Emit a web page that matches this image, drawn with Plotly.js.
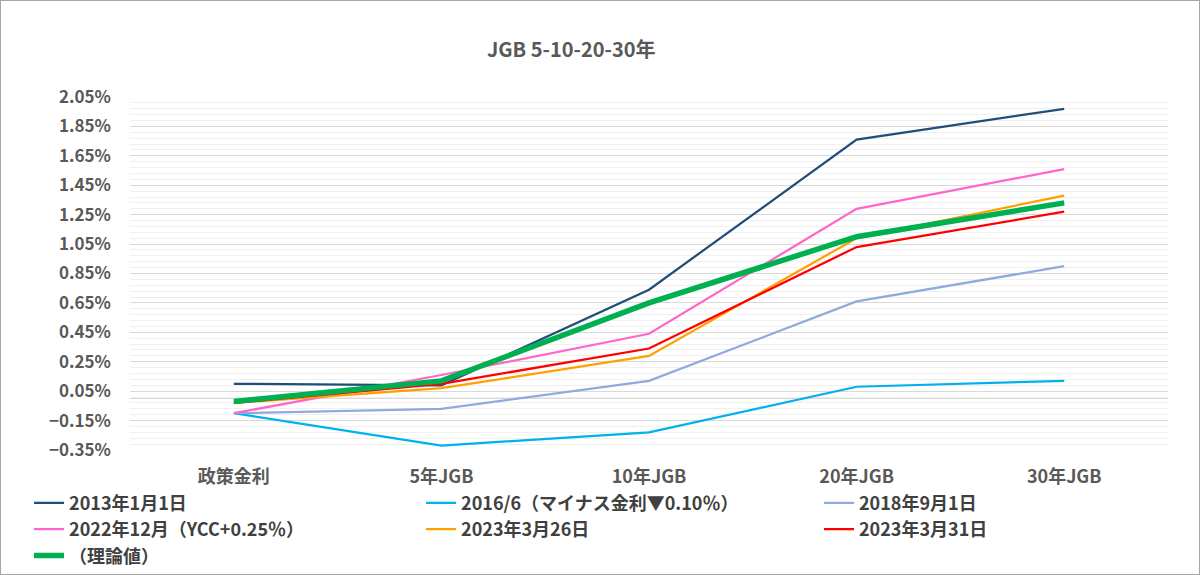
<!DOCTYPE html>
<html>
<head>
<meta charset="utf-8">
<script src="https://cdn.plot.ly/plotly-3.0.1.min.js"></script>
<style>
  body { margin: 0; background: #fff; }
  #chart { width: 1198px; height: 573px; border: 1px solid #a6a6a6; }
</style>
</head>
<body>
<div id="chart"></div>
<script>
// 年限
var maturities = ['政策金利', '5年JGB', '10年JGB', '20年JGB', '30年JGB'];

// 利回り（%）
var y2013jan = [0.10, 0.09, 0.74, 1.76, 1.97];
var y2016jun = [-0.10, -0.32, -0.23, 0.08, 0.12];
var y2018sep = [-0.10, -0.07, 0.12, 0.66, 0.90];
var y2022dec = [-0.10, 0.16, 0.44, 1.29, 1.56];
var y2023mar26 = [-0.03, 0.07, 0.29, 1.09, 1.38];
var y2023mar31 = [-0.03, 0.10, 0.34, 1.03, 1.27];
var theory = [-0.02, 0.12, 0.65, 1.10, 1.33];

var seriesNames = [
  '2013年1月1日',
  '2016/6（マイナス金利▼0.10％）',
  '2018年9月1日',
  '2022年12月（YCC+0.25％）',
  '2023年3月26日',
  '2023年3月31日',
  '（理論値）'
];

var font = '"Noto Sans CJK JP", "Noto Sans", sans-serif';

// legend: 3 columns like the Excel one -> one legend per column
function line(name, vals, color, legend, width) {
  return {
    x: maturities,
    y: vals,
    name: name,
    legend: legend,
    legendgroup: name,
    type: 'scatter',
    mode: 'lines',
    line: { color: color, width: width || 2.25 },
    hoverinfo: 'skip'
  };
}

var data = [
  line(seriesNames[0], y2013jan, '#1f4e79', 'legend'),
  line(seriesNames[1], y2016jun, '#00b0f0', 'legend2'),
  line(seriesNames[2], y2018sep, '#8faadc', 'legend3'),
  line(seriesNames[3], y2022dec, '#ff66cc', 'legend'),
  line(seriesNames[4], y2023mar26, '#ffa000', 'legend2'),
  line(seriesNames[5], y2023mar31, '#ff0000', 'legend3'),
  line(seriesNames[6], theory, '#00b050', 'legend', 5.5)
];

function legendAt(x) {
  return {
    orientation: 'v',
    xref: 'container',
    yref: 'container',
    x: x,
    xanchor: 'left',
    y: 0.156,
    yanchor: 'top',
    tracegroupgap: 3,
    traceorder: 'normal',
    font: { family: font, size: 18, color: '#404040', weight: 'bold' },
    bgcolor: 'rgba(0,0,0,0)'
  };
}

var layout = {
  width: 1198,
  height: 573,
  paper_bgcolor: '#fff',
  plot_bgcolor: '#fff',
  margin: { l: 129, r: 31, t: 96, b: 124, autoexpand: false },
  font: { family: font, color: '#595959', size: 16 },
  title: {
    text: '<b>JGB 5-10-20-30年</b>',
    x: 0.476, xanchor: 'center',
    y: 0.915, yanchor: 'middle',
    font: { family: font, size: 20, color: '#595959' }
  },
  xaxis: {
    type: 'category',
    range: [-0.5, 4.5],
    automargin: false,
    showgrid: false,
    zeroline: false,
    showline: false,
    ticks: '',
    ticklabelstandoff: 14,
    tickfont: { family: font, size: 18, color: '#595959', weight: 'bold' }
  },
  yaxis: {
    range: [-0.35, 2.05],
    automargin: false,
    tick0: 0.05,
    dtick: 0.2,
    ticksuffix: '%',
    tickformat: '.2f',
    showgrid: true,
    gridcolor: '#d9d9d9',
    gridwidth: 1,
    zeroline: true,
    zerolinecolor: '#d9d9d9',
    zerolinewidth: 1,
    showline: false,
    ticks: '',
    ticklabelstandoff: 18,
    tickfont: { family: font, size: 17, color: '#595959', weight: 'bold' },
    minor: {
      tick0: 0.05,
      dtick: 0.04,
      showgrid: true,
      gridcolor: '#f0f0f0',
      gridwidth: 1
    }
  },
  showlegend: true,
  legend: legendAt(0.0234),
  legend2: legendAt(0.3506),
  legend3: legendAt(0.6828)
};

Plotly.newPlot('chart', data, layout, { displayModeBar: false, staticPlot: true });
</script>
</body>
</html>
